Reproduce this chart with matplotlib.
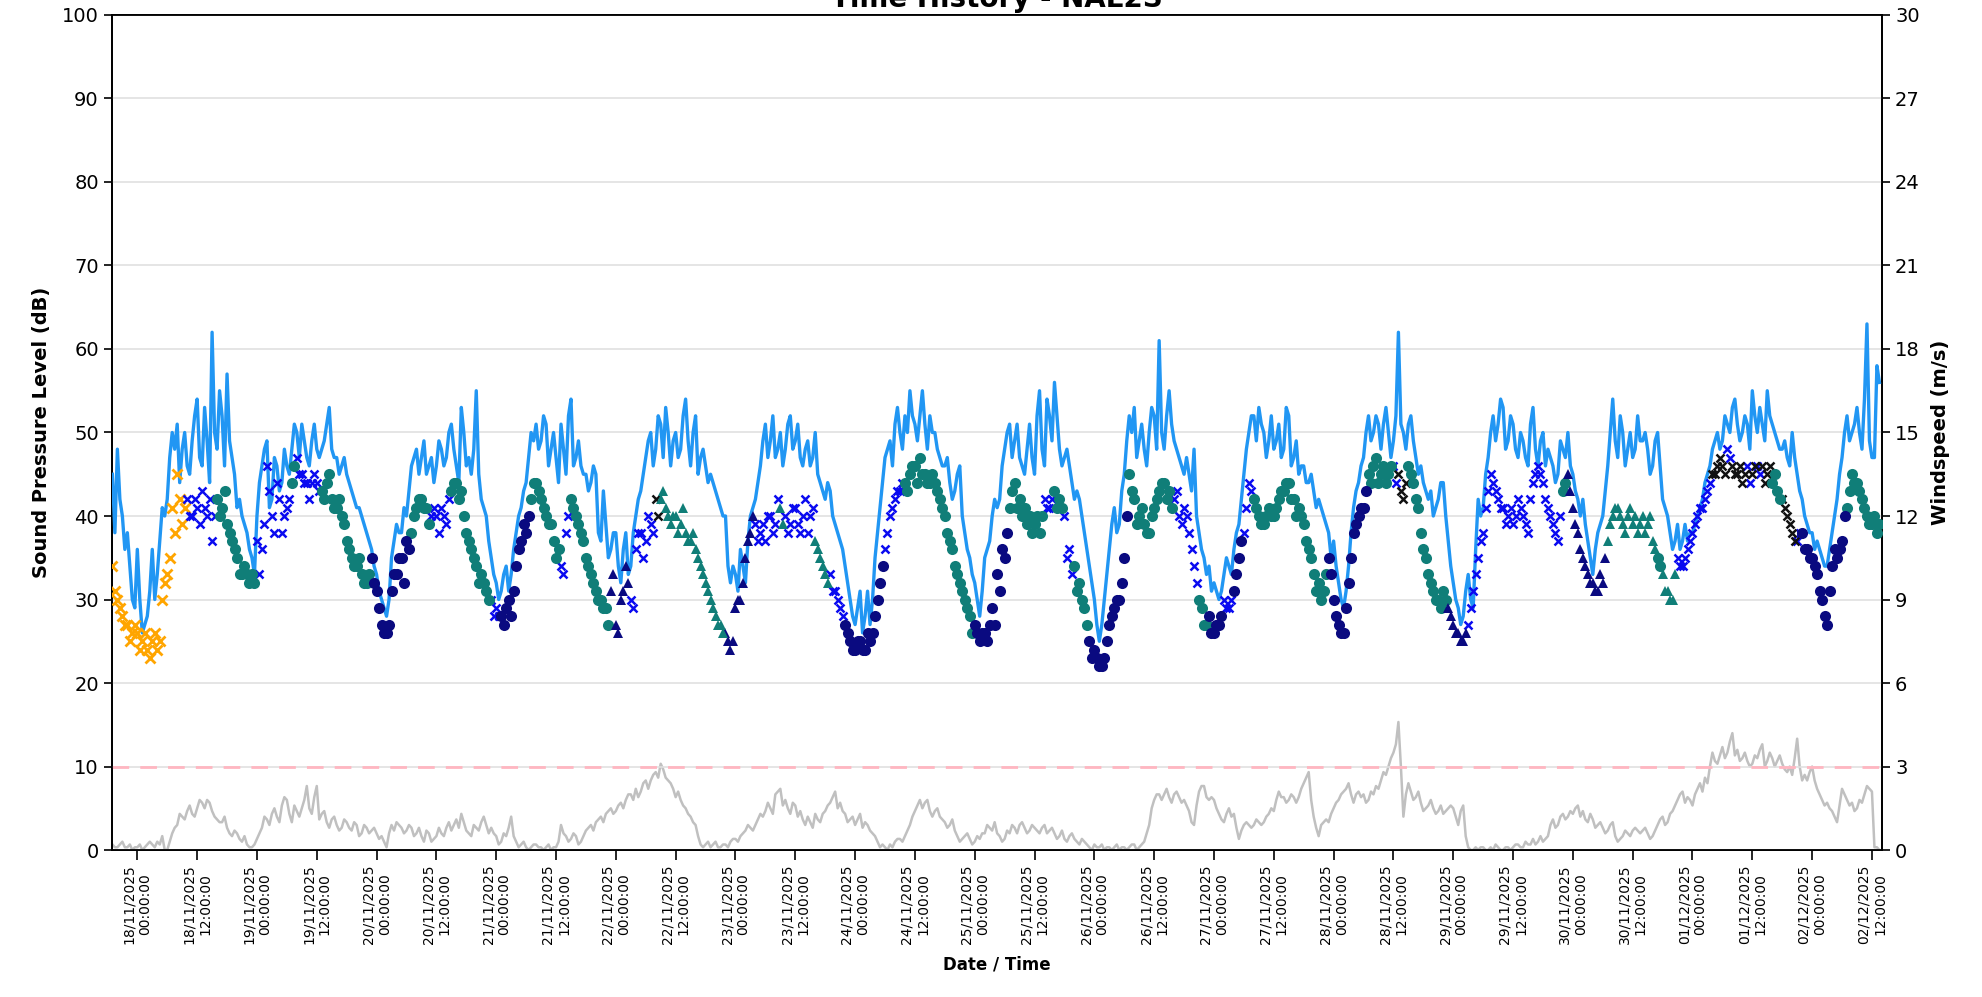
import matplotlib
matplotlib.use("Agg")
import matplotlib.pyplot as plt
import matplotlib.dates as mdates
from datetime import datetime, timedelta

# ---------------- data (hourly from 17/11/2025 19:00, plus half-hour readings) ----------------
START = datetime(2025, 11, 17, 19, 0)

# Sound pressure level line (dB) at hh:00
level_db = [
    45, 48, 40, 38, 30,
    36, 26, 28, 36, 33, 41, 42, 50, 51, 48, 46, 49, 54, 46, 49, 62, 48, 52, 57, 47, 41, 40, 38, 35,
    40, 46, 49, 42, 46, 44, 46, 48, 50, 51, 47, 49, 48, 48, 51, 48, 47, 46, 45, 43, 41, 40, 38, 36,
    33, 30, 28, 35, 39, 38, 40, 46, 48, 47, 45, 47, 46, 48, 47, 51, 46, 53, 46, 45, 55, 42, 40, 35,
    32, 31, 34, 33, 38, 41, 44, 50, 51, 49, 51, 48, 47, 51, 45, 54, 47, 46, 45, 44, 45, 37, 39, 36,
    38, 32, 38, 34, 40, 43, 47, 50, 48, 51, 53, 46, 50, 48, 54, 46, 52, 47, 46, 45, 43, 41, 40, 32,
    33, 36, 32, 40, 42, 46, 51, 49, 47, 50, 48, 52, 49, 47, 48, 46, 50, 44, 42, 43, 39, 37, 34, 30,
    27, 31, 28, 27, 35, 41, 47, 49, 51, 50, 52, 55, 51, 52, 51, 52, 50, 47, 46, 44, 43, 46, 38, 35,
    32, 28, 35, 37, 42, 42, 48, 51, 49, 47, 45, 51, 45, 55, 46, 52, 56, 48, 47, 46, 42, 42, 38, 34,
    30, 25, 30, 36, 41, 39, 45, 52, 53, 49, 48, 50, 52, 61, 48, 55, 49, 47, 45, 45, 48, 38, 35, 34,
    32, 30, 33, 34, 36, 39, 45, 50, 52, 53, 50, 49, 48, 51, 48, 52, 47, 45, 46, 44, 43, 42, 40, 38,
    37, 32, 29, 34, 41, 44, 47, 52, 50, 51, 51, 50, 49, 62, 50, 51, 49, 45, 44, 42, 40, 42, 44, 37,
    32, 29, 28, 33, 29, 42, 41, 47, 52, 51, 53, 49, 51, 47, 49, 46, 53, 46, 50, 48, 46, 45, 48, 50,
    45, 42, 42, 37, 33, 38, 40, 46, 54, 47, 50, 48, 47, 52, 49, 48, 46, 50, 42, 40, 36, 39, 37, 37,
    38, 40, 42, 45, 48, 50, 49, 51, 53, 51, 50, 51, 55, 50, 51, 55, 51, 49, 48, 47, 50, 45, 42, 39,
    38, 37, 35, 34, 38, 42, 47, 52, 50, 53, 48, 63, 47, 58,
]
# Sound pressure level line (dB) at hh:30
level_db_half = [
    38, 42, 36, 34, 29,
    30, 27, 31, 30, 37, 40, 47, 48, 44, 50, 45, 52, 47, 53, 44, 50, 55, 46, 49, 45, 42, 39, 36, 33,
    44, 48, 41, 47, 43, 48, 45, 51, 47, 49, 46, 51, 47, 49, 53, 47, 45, 47, 44, 42, 41, 39, 37, 34,
    31, 29, 30, 37, 38, 41, 43, 47, 45, 49, 46, 44, 49, 46, 50, 48, 44, 50, 47, 48, 45, 41, 37, 33,
    30, 33, 31, 36, 40, 43, 47, 49, 48, 52, 46, 50, 44, 48, 52, 46, 49, 45, 43, 46, 38, 43, 35, 38,
    34, 36, 33, 38, 42, 45, 49, 46, 52, 47, 50, 49, 47, 52, 49, 50, 45, 48, 44, 44, 42, 40, 34, 34,
    31, 34, 37, 41, 44, 49, 47, 52, 48, 46, 51, 48, 51, 46, 49, 47, 45, 43, 44, 40, 38, 36, 32, 28,
    29, 26, 31, 30, 38, 44, 48, 46, 53, 48, 50, 52, 49, 55, 48, 50, 48, 46, 47, 42, 45, 40, 36, 33,
    30, 31, 36, 40, 41, 46, 50, 47, 51, 46, 48, 47, 52, 48, 54, 49, 52, 46, 48, 44, 43, 40, 36, 32,
    27, 27, 33, 39, 38, 43, 49, 50, 47, 51, 46, 53, 48, 50, 52, 51, 48, 46, 47, 43, 40, 36, 33, 31,
    31, 31, 35, 33, 38, 42, 48, 52, 49, 51, 47, 52, 49, 47, 53, 46, 49, 46, 44, 45, 41, 41, 39, 35,
    34, 30, 31, 38, 43, 46, 50, 49, 52, 48, 53, 47, 52, 51, 48, 52, 47, 46, 43, 43, 41, 44, 40, 34,
    30, 27, 31, 30, 36, 40, 45, 50, 49, 54, 48, 52, 48, 50, 47, 51, 48, 49, 46, 47, 44, 49, 47, 46,
    43, 40, 39, 35, 36, 39, 43, 50, 49, 52, 46, 50, 48, 49, 50, 45, 49, 46, 41, 38, 37, 36, 39, 38,
    39, 41, 44, 46, 49, 48, 52, 50, 54, 49, 52, 48, 52, 53, 49, 52, 50, 48, 49, 46, 47, 43, 40, 38,
    36, 36, 34, 36, 40, 45, 50, 49, 51, 50, 54, 49, 47, 56,
]

# Windspeed (m/s) at hh:00
wind_ms = [
    0.2, 0.1, 0.3, 0.1, 0.0,
    0.1, 0.0, 0.2, 0.2, 0.3, 0.5, 0.0, 0.6, 0.9, 1.2, 1.4, 1.3, 1.5, 1.7, 1.8, 1.4, 1.1, 1.0, 0.8, 0.5, 0.6, 0.3, 0.2, 0.1,
    0.4, 0.8, 1.1, 1.3, 1.2, 1.6, 1.8, 1.0, 1.4, 1.5, 2.3, 1.3, 2.3, 1.3, 1.0, 1.1, 0.9, 0.8, 1.0, 0.7, 0.9, 0.6, 0.8, 0.7,
    0.6, 0.5, 0.1, 0.9, 1.0, 0.8, 0.7, 0.8, 0.6, 0.5, 0.7, 0.3, 0.5, 0.6, 0.8, 0.7, 1.1, 1.3, 0.7, 0.5, 0.8, 1.0, 0.9, 0.8,
    0.5, 0.3, 0.5, 1.2, 0.3, 0.2, 0.1, 0.1, 0.2, 0.1, 0.1, 0.0, 0.1, 0.9, 0.5, 0.4, 0.5, 0.3, 0.7, 0.9, 1.0, 1.2, 1.3, 1.5,
    1.4, 1.7, 1.8, 2.0, 2.2, 2.1, 2.5, 2.5, 2.8, 3.1, 2.6, 2.4, 1.9, 1.8, 1.5, 1.2, 0.9, 0.2, 0.2, 0.1, 0.3, 0.1, 0.2, 0.3,
    0.4, 0.5, 0.7, 0.8, 0.9, 1.3, 1.4, 1.5, 2.0, 2.2, 1.8, 1.3, 1.6, 1.4, 0.9, 1.0, 1.3, 1.0, 1.4, 1.7, 2.1, 1.7, 1.3, 1.1,
    0.9, 1.3, 1.0, 0.7, 0.5, 0.1, 0.1, 0.2, 0.3, 0.4, 0.5, 0.9, 1.4, 1.8, 1.7, 1.4, 1.4, 1.2, 1.0, 0.9, 0.7, 0.3, 0.5, 0.4,
    0.3, 0.4, 0.6, 0.8, 1.0, 0.5, 0.4, 0.6, 0.8, 0.9, 0.8, 0.7, 0.8, 0.6, 0.9, 0.7, 0.6, 0.5, 0.4, 0.5, 0.4, 0.2, 0.3, 0.1,
    0.2, 0.1, 0.0, 0.1, 0.1, 0.0, 0.1, 0.1, 0.2, 0.1, 0.3, 0.9, 1.8, 2.0, 2.0, 1.9, 2.0, 1.9, 1.8, 1.4, 0.9, 2.1, 2.3, 1.8,
    1.8, 1.3, 1.0, 1.5, 1.3, 0.4, 0.9, 0.9, 0.9, 1.0, 1.0, 1.3, 1.4, 2.1, 1.9, 1.8, 1.9, 1.9, 2.4, 2.8, 1.2, 0.5, 1.0, 1.0,
    1.5, 1.8, 2.1, 2.4, 1.7, 2.1, 2.0, 1.8, 2.0, 2.2, 2.8, 3.0, 3.5, 4.6, 1.2, 2.4, 1.8, 2.1, 1.4, 1.6, 1.5, 1.4, 1.3, 1.5,
    1.5, 0.9, 1.6, 0.1, 0.0, 0.0, 0.1, 0.0, 0.0, 0.1, 0.0, 0.1, 0.1, 0.2, 0.1, 0.2, 0.4, 0.3, 0.3, 0.5, 1.1, 0.9, 1.3, 1.2,
    1.3, 1.6, 1.4, 1.0, 1.1, 0.9, 0.8, 0.7, 1.0, 0.3, 0.5, 0.6, 0.7, 0.7, 0.7, 0.6, 0.5, 0.9, 1.2, 1.0, 1.4, 1.8, 2.1, 1.9,
    1.6, 2.2, 2.1, 2.4, 3.5, 3.1, 3.7, 3.5, 4.2, 3.6, 3.3, 3.2, 3.1, 3.3, 3.8, 3.2, 3.3, 3.2, 3.1, 2.8, 2.7, 4.0, 2.5, 2.5,
    3.0, 2.2, 1.8, 1.7, 1.4, 1.0, 2.2, 1.8, 1.7, 1.5, 1.7, 2.3, 2.1, 0.1,
]
# Windspeed (m/s) at hh:30
wind_ms_half = [
    0.1, 0.2, 0.1, 0.2, 0.1,
    0.2, 0.1, 0.3, 0.1, 0.2, 0.0, 0.3, 0.8, 1.3, 1.1, 1.6, 1.2, 1.8, 1.5, 1.7, 1.2, 1.0, 1.2, 0.6, 0.7, 0.4, 0.5, 0.1, 0.2,
    0.6, 1.2, 0.9, 1.5, 1.0, 1.9, 1.3, 1.6, 1.2, 1.8, 1.5, 1.9, 1.1, 1.4, 0.8, 1.2, 0.7, 1.1, 0.8, 1.0, 0.5, 0.9, 0.6, 0.8,
    0.4, 0.3, 0.6, 0.7, 0.9, 0.6, 0.9, 0.5, 0.8, 0.3, 0.6, 0.4, 0.8, 0.5, 1.0, 0.9, 0.8, 1.0, 0.6, 0.9, 0.7, 1.2, 0.6, 0.6,
    0.2, 0.6, 0.8, 0.5, 0.1, 0.3, 0.0, 0.2, 0.1, 0.0, 0.2, 0.1, 0.3, 0.6, 0.3, 0.6, 0.2, 0.5, 0.8, 0.7, 1.1, 1.0, 1.4, 1.3,
    1.6, 1.5, 2.0, 1.8, 1.9, 2.4, 2.2, 2.7, 2.6, 2.9, 2.5, 2.2, 2.1, 1.6, 1.3, 1.0, 0.5, 0.1, 0.3, 0.2, 0.1, 0.2, 0.1, 0.4,
    0.3, 0.6, 0.9, 0.7, 1.1, 1.2, 1.7, 1.3, 2.1, 1.6, 1.5, 1.7, 1.2, 1.1, 1.2, 0.8, 1.1, 1.3, 1.6, 1.9, 1.5, 1.4, 1.0, 1.2,
    1.1, 0.8, 0.9, 0.6, 0.3, 0.2, 0.0, 0.1, 0.4, 0.3, 0.7, 1.2, 1.6, 1.5, 1.8, 1.2, 1.5, 1.1, 0.8, 1.1, 0.5, 0.4, 0.6, 0.2,
    0.5, 0.6, 0.9, 0.7, 0.6, 0.3, 0.7, 0.9, 0.6, 1.0, 0.6, 0.9, 0.7, 0.8, 0.6, 0.8, 0.4, 0.7, 0.3, 0.6, 0.3, 0.4, 0.2, 0.0,
    0.1, 0.2, 0.1, 0.0, 0.2, 0.1, 0.0, 0.2, 0.0, 0.2, 0.6, 1.5, 2.0, 1.8, 2.2, 1.7, 2.1, 1.7, 1.6, 1.0, 1.6, 2.3, 1.9, 1.9,
    1.5, 1.1, 1.3, 1.2, 0.8, 0.7, 1.0, 0.8, 1.1, 0.9, 1.2, 1.5, 1.8, 1.9, 1.7, 2.0, 1.7, 2.2, 2.6, 1.8, 0.8, 0.9, 1.1, 1.3,
    1.7, 2.0, 2.2, 2.0, 2.0, 1.9, 1.7, 2.1, 2.3, 2.5, 2.7, 3.3, 3.8, 3.0, 2.0, 2.1, 1.9, 1.7, 1.5, 1.8, 1.3, 1.6, 1.4, 1.6,
    1.2, 1.4, 0.5, 0.0, 0.1, 0.1, 0.0, 0.1, 0.2, 0.0, 0.1, 0.0, 0.2, 0.1, 0.3, 0.2, 0.2, 0.5, 0.4, 0.9, 0.8, 1.2, 1.1, 1.4,
    1.5, 1.2, 1.1, 1.3, 0.8, 1.0, 0.6, 0.9, 0.5, 0.4, 0.7, 0.5, 0.8, 0.6, 0.8, 0.4, 0.7, 1.1, 0.9, 1.3, 1.6, 2.0, 1.7, 1.8,
    2.0, 2.4, 2.6, 3.0, 3.2, 3.4, 3.3, 3.9, 3.4, 3.2, 3.5, 3.0, 3.4, 3.6, 3.0, 3.5, 3.0, 3.4, 2.9, 3.0, 3.3, 3.0, 2.7, 2.8,
    2.5, 2.0, 1.6, 1.5, 1.2, 1.6, 2.0, 1.6, 1.4, 1.8, 2.0, 2.2, 0.1, 0.0,
]

# Scatter levels (dB) at hh:00 and hh:30, and the class for each hour
point_db = [
    34, 30, 28, 27, 26,
    26, 25, 24, 25, 24, 30, 33, 41, 45, 39, 42, 40, 41, 43, 40, 37, 42, 41, 39, 37, 35, 33, 33, 33,
    37, 36, 46, 40, 44, 38, 41, 44, 47, 45, 44, 44, 44, 43, 44, 42, 41, 40, 37, 35, 34, 33, 32, 35,
    31, 27, 26, 31, 33, 35, 37, 38, 41, 42, 41, 40, 40, 41, 39, 43, 44, 43, 38, 36, 34, 33, 31, 30,
    29, 28, 29, 28, 34, 37, 38, 42, 44, 42, 40, 39, 35, 34, 38, 42, 40, 38, 35, 33, 31, 30, 29, 31,
    27, 30, 34, 30, 36, 38, 37, 39, 42, 42, 41, 39, 40, 39, 38, 37, 36, 34, 32, 30, 28, 27, 26, 24,
    29, 30, 35, 38, 39, 38, 37, 40, 39, 41, 40, 39, 41, 38, 42, 40, 37, 35, 33, 33, 31, 29, 27, 25,
    24, 25, 24, 25, 28, 32, 36, 40, 42, 43, 44, 45, 46, 47, 45, 44, 44, 42, 40, 37, 34, 32, 30, 28,
    27, 25, 26, 27, 27, 31, 35, 41, 44, 42, 41, 40, 39, 38, 42, 41, 43, 42, 40, 36, 34, 32, 29, 25,
    24, 22, 23, 27, 29, 30, 35, 45, 42, 40, 39, 38, 41, 43, 44, 43, 42, 40, 41, 38, 34, 30, 27, 28,
    26, 27, 30, 29, 31, 35, 38, 44, 42, 40, 39, 41, 40, 42, 43, 44, 42, 41, 39, 36, 33, 32, 31, 35,
    30, 27, 26, 32, 38, 40, 41, 45, 46, 44, 46, 45, 46, 45, 42, 46, 44, 41, 36, 33, 31, 30, 31, 29,
    27, 26, 25, 27, 31, 35, 38, 43, 44, 42, 41, 40, 39, 42, 40, 38, 44, 46, 44, 41, 39, 37, 43, 45,
    41, 38, 35, 33, 32, 31, 32, 37, 40, 41, 39, 40, 39, 38, 40, 39, 37, 35, 33, 31, 30, 35, 34, 36,
    38, 40, 41, 43, 45, 46, 46, 48, 46, 45, 44, 46, 45, 46, 46, 45, 44, 43, 42, 40, 38, 37, 38, 36,
    35, 33, 30, 27, 34, 35, 37, 41, 45, 44, 42, 40, 39, 38,
]
point_db_half = [
    31, 29, 27, 25, 27,
    24, 26, 23, 26, 25, 32, 35, 38, 42, 41, 40, 42, 39, 41, 42, 40, 40, 43, 38, 36, 33, 34, 32, 32,
    33, 39, 43, 38, 42, 40, 42, 46, 45, 44, 42, 45, 43, 42, 45, 41, 42, 39, 36, 34, 35, 32, 33, 32,
    29, 26, 27, 33, 35, 32, 36, 40, 42, 41, 39, 41, 38, 40, 42, 44, 42, 40, 37, 35, 32, 32, 30, 28,
    28, 27, 30, 31, 36, 39, 40, 44, 43, 41, 39, 37, 36, 33, 40, 41, 39, 37, 34, 32, 30, 29, 27, 33,
    26, 31, 32, 29, 38, 35, 40, 38, 40, 43, 40, 40, 38, 41, 37, 38, 35, 33, 31, 29, 27, 26, 25, 25,
    30, 32, 37, 40, 37, 39, 40, 38, 42, 39, 38, 41, 39, 40, 38, 41, 36, 34, 32, 31, 30, 28, 26, 24,
    25, 24, 26, 26, 30, 34, 38, 41, 43, 44, 43, 46, 44, 45, 44, 45, 43, 41, 38, 36, 33, 31, 29, 26,
    26, 26, 25, 29, 33, 36, 38, 43, 41, 40, 39, 38, 40, 40, 41, 42, 41, 41, 35, 33, 31, 30, 27, 23,
    23, 22, 25, 28, 30, 32, 40, 43, 39, 41, 38, 40, 42, 44, 42, 41, 43, 39, 40, 36, 32, 29, 27, 26,
    27, 28, 29, 30, 33, 37, 41, 43, 41, 39, 40, 40, 41, 43, 44, 42, 40, 40, 37, 35, 31, 30, 33, 33,
    28, 26, 29, 35, 39, 41, 43, 44, 47, 45, 44, 46, 44, 43, 44, 45, 42, 38, 35, 32, 30, 29, 30, 28,
    26, 25, 26, 29, 33, 37, 41, 45, 43, 41, 39, 41, 40, 41, 39, 42, 45, 45, 42, 40, 38, 40, 44, 43,
    39, 36, 34, 32, 31, 33, 35, 39, 41, 40, 38, 41, 40, 39, 38, 40, 36, 34, 31, 30, 33, 34, 35, 37,
    39, 41, 42, 44, 45, 47, 45, 47, 45, 46, 45, 44, 46, 45, 44, 46, 45, 42, 41, 39, 37, 38, 36, 35,
    34, 31, 28, 31, 36, 36, 40, 43, 44, 43, 41, 39, 40, 39,
]
point_class = (
    "OOOOO"
    "OOOOOOOOOOBBBBBBTTTTTTTT"
    "BBBBBBBTBBBBBTTTTTTTTTTN"
    "NNNNNNNTTTTBBBBTTTTTTTTB"
    "BNNNNNNTTTTTTBBTTTTTTTTn"
    "nnnBBBBBKtttttttttttttnn"
    "nnnnBBBBBtBBBBBBtttBBBNN"
    "NNNNNNBBBBTTTTTTTTTTTTTT"
    "NNNNNNNTTTTTTTBBTTBBTTTN"
    "NNNNNNNTTTTTTTTTBBBBBTTN"
    "NNBBNNBBTTTTTTTTTTTTTTTN"
    "NNNNNNNTTTTTBKKTTTTTTTTn"
    "nnnBBBBBBBBBBBBBBBBBBBTn"
    "nnnnnnnttttttttttTtttBBB"
    "BBBBKKKBKKKBKBKKTTKKKBNN"
    "NNNNNNNTTTTTTT"
)

x_tick_start = datetime(2025, 11, 18, 0, 0)
n_x_ticks = 30            # every 12 h up to 02/12/2025 12:00
left_ticks = list(range(0, 101, 10))
right_ticks = list(range(0, 31, 3))
wind_threshold_db = 10

title_text = "Time History - NAL2S"
x_label = "Date / Time"
y_label_left = "Sound Pressure Level (dB)"
y_label_right = "Windspeed (m/s)"

# ---------------- styles ----------------
styles = {
    "O": dict(marker="x", color="#FFA500", ms=7, mew=2.0),
    "B": dict(marker="x", color="#0a0af0", ms=6, mew=1.8),
    "K": dict(marker="x", color="#111111", ms=6, mew=1.8),
    "T": dict(marker="o", color="#107e78", ms=8, mew=0),
    "N": dict(marker="o", color="#0a0a80", ms=8, mew=0),
    "n": dict(marker="^", color="#0a0a80", ms=7.5, mew=0),
    "t": dict(marker="^", color="#107e78", ms=7.5, mew=0),
}

times = [START + timedelta(hours=i) for i in range(len(level_db))]
times_half = [t + timedelta(minutes=30) for t in times]

line_t, line_v, wind_v = [], [], []
for t0, v0, w0, t1, v1, w1 in zip(times, level_db, wind_ms, times_half, level_db_half, wind_ms_half):
    line_t += [t0, t1]
    line_v += [v0, v1]
    wind_v += [w0, w1]

fig = plt.figure(figsize=(19.82, 9.97), dpi=100)
ax = fig.add_axes([0.0565, 0.1474, 0.8930, 0.8376])
ax2 = ax.twinx()

# wind on right axis
ax2.plot(line_t, wind_v, color="#c0c0c0", lw=1.8, zorder=1)
ax2.set_ylim(0, 30)
ax2.set_yticks(right_ticks)
ax2.set_ylabel(y_label_right, fontsize=14, fontweight="bold", labelpad=8)
ax2.tick_params(axis="y", labelsize=14, length=6, width=1.2)

ax.set_zorder(ax2.get_zorder() + 1)
ax.patch.set_visible(False)

ax.axhline(wind_threshold_db, color="#ffb6c1", lw=2, ls=(0, (6, 4)), zorder=2)
ax.plot(line_t, line_v, color="#2196F3", lw=2.4, zorder=3)

for key, st in styles.items():
    xs, ys = [], []
    for t0, v0, t1, v1, c in zip(times, point_db, times_half, point_db_half, point_class):
        if c == key:
            xs += [t0, t1]
            ys += [v0, v1]
    ax.plot(xs, ys, ls="none", marker=st["marker"], color=st["color"],
            ms=st["ms"], mew=st["mew"], zorder=4)

ax.set_ylim(0, 100)
ax.set_yticks(left_ticks)
ax.set_xlim(START - timedelta(minutes=5), START + timedelta(hours=355))
ax.yaxis.grid(True, color="#e0e0e0", lw=1.2)
ax.set_axisbelow(True)
ax.tick_params(axis="y", labelsize=14, length=6, width=1.2)
ax.set_ylabel(y_label_left, fontsize=14, fontweight="bold", labelpad=8)

xt = [x_tick_start + timedelta(hours=12 * k) for k in range(n_x_ticks)]
ax.set_xticks(xt)
ax.xaxis.set_major_formatter(mdates.DateFormatter("%d/%m/%Y\n%H:%M:%S"))
ax.tick_params(axis="x", labelsize=10, length=7, width=1.2, rotation=90)
ax.set_xlabel(x_label, fontsize=12, fontweight="bold", labelpad=8)

for a in (ax, ax2):
    for s in a.spines.values():
        s.set_linewidth(1.3)

ax.set_title(title_text, fontsize=20, fontweight="bold")

fig.savefig("out.png", dpi=100)
